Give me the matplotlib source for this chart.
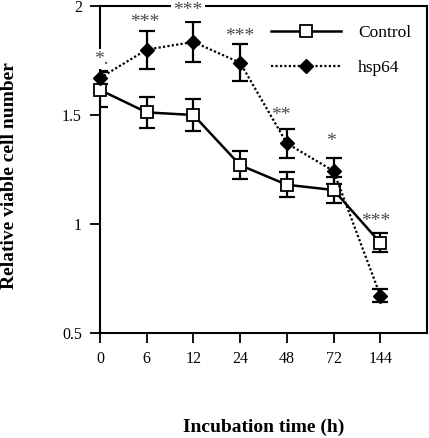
import numpy as np
import matplotlib.pyplot as plt

# --- data ---
time_labels = ["0", "6", "12", "24", "48", "72", "144"]
control = [1.615, 1.512, 1.50, 1.27, 1.18, 1.156, 0.914]
control_err = [0.08, 0.07, 0.073, 0.063, 0.057, 0.06, 0.044]
hsp64 = [1.67, 1.80, 1.835, 1.74, 1.37, 1.243, 0.672]
hsp64_err = [0.03, 0.087, 0.09, 0.085, 0.067, 0.06, 0.03]

# significance marks: (x position in data units, visual centre y, text)
sig_x = [0.95, 2.98, 3.88, 4.95, 5.9]
sig_y = [1.945, 1.88, 1.515, 1.40, 1.03]
sig_txt = ["***", "***", "**", "*", "***"]

plt.rcParams['font.family'] = ['Liberation Serif', 'DejaVu Serif']

fig = plt.figure(figsize=(4.29, 4.38), dpi=100)
ax = fig.add_axes([0.2331, 0.2397, 0.7622, 0.7466])

x = np.arange(len(time_labels))

# error bars (solid) then the lines with markers
ax.errorbar(x, control, yerr=control_err, fmt='none', ecolor='black',
            capsize=5.5, elinewidth=1.6, capthick=1.6, zorder=2)
ax.errorbar(x, hsp64, yerr=hsp64_err, fmt='none', ecolor='black',
            capsize=5.5, elinewidth=1.6, capthick=1.6, zorder=2)
ax.plot(x, control, color='black', lw=1.8, ls='-', marker='s', ms=8,
        mfc='white', mec='black', mew=1.3, zorder=3, label='Control',
        clip_on=False)
ax.plot(x, hsp64, color='black', lw=1.6, ls=(0, (1, 1)), marker='D', ms=7.5,
        mfc='black', mec='black', zorder=4, label='hsp64', clip_on=False)

# asterisks sit high in the glyph box, so place by baseline
star_fs = 14
off = 0.45 * star_fs * 100 / 72 / 218.0
for xi, yi, t in zip(sig_x, sig_y, sig_txt):
    ax.text(xi, yi - off, t, ha='center', va='baseline', fontsize=star_fs,
            color='#4a4a4a', zorder=5)

# the 0 h mark breaks the left axis line
ax.text(0.02, 1.775 - off, "*.", ha='center', va='baseline', fontsize=star_fs,
        color='#4a4a4a', zorder=6, clip_on=False,
        bbox=dict(facecolor='white', edgecolor='none', pad=1.0))

# mark over the 0-12 h range sits on the top frame
ax.text(1.88, 2.0 - off, "***", ha='center', va='baseline', fontsize=star_fs,
        color='#4a4a4a', zorder=6, clip_on=False,
        bbox=dict(facecolor='white', edgecolor='none', pad=1.5))

ax.set_xlim(0, 7)
ax.set_ylim(0.5, 2)
ax.set_xticks(x)
ax.set_xticklabels(time_labels)
ax.set_yticks([0.5, 1, 1.5, 2])
ax.set_yticklabels(["0.5", "1", "1.5", "2"])
ax.tick_params(direction='out', length=7, width=1.3, labelsize=11.5, pad=6)
for s in ax.spines.values():
    s.set_linewidth(1.5)

ax.set_ylabel("Relative viable cell number", fontsize=14, fontweight='bold')
ax.yaxis.set_label_coords(-0.25, 0.48)
ax.set_xlabel("Incubation time (h)", fontsize=14, fontweight='bold',
              labelpad=37)

ax.legend(loc='upper right', bbox_to_anchor=(1.0, 0.99), frameon=False,
          handlelength=4.0, fontsize=12.5, labelspacing=1.1, handletextpad=1.0)

fig.savefig("out.png", dpi=100)
